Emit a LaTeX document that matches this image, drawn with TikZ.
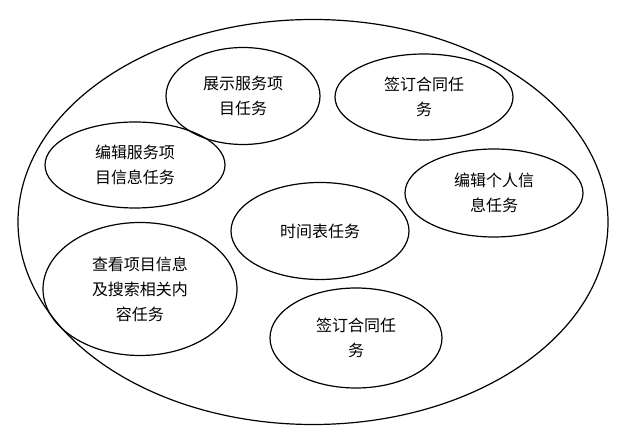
\documentclass[tikz,border=0pt]{standalone}
\usepackage{fontspec}
\setmainfont{Noto Sans CJK SC}
\usetikzlibrary{shapes.geometric}

\begin{document}
\begin{tikzpicture}[x=1pt, y=-1pt,
    task/.style={draw, ellipse, line width=1.2pt, align=center, inner sep=0pt,
      font=\fontsize{16}{25}\selectfont}]
    \useasboundingbox (0,0) rectangle (633,435);

    % outer boundary
    \node[draw, ellipse, line width=1.2pt, minimum width=590, minimum height=405] (sys) at (313,222) {};

    % tasks
    \node[task, minimum width=154, minimum height=97] (show) at (243,96) {展示服务项\\目任务};
    \node[task, minimum width=178, minimum height=86] (signA) at (424,97) {签订合同任\\务};
    \node[task, minimum width=180, minimum height=86] (edit) at (135,165) {编辑服务项\\目信息任务};
    \node[task, minimum width=178, minimum height=88] (person) at (494,193) {编辑个人信\\息任务};
    \node[task, minimum width=178, minimum height=97] (time) at (320,231) {时间表任务};
    \node[task, minimum width=194, minimum height=133] (search) at (140,289) {查看项目信息\\及搜索相关内\\容任务};
    \node[task, minimum width=172, minimum height=100] (signB) at (356,338) {签订合同任\\务};
  \end{tikzpicture}
\end{document}
